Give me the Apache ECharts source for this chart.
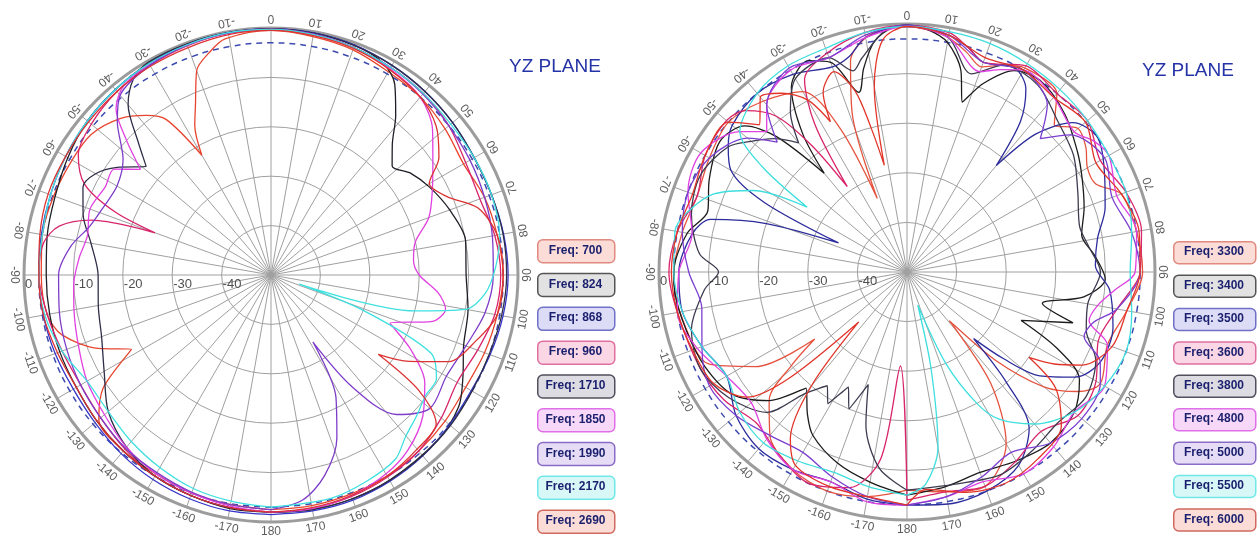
<!DOCTYPE html>
<html><head><meta charset="utf-8">
<script src="https://cdn.jsdelivr.net/npm/echarts@6/dist/echarts.min.js"></script>
<style>html,body{margin:0;padding:0;background:#fff}#c{width:1260px;height:541px}</style>
</head><body><div id="c"></div>
<script>
// ---------- tick labels ----------
const angleLabels = [-170,-160,-150,-140,-130,-120,-110,-100,-90,-80,-70,-60,-50,-40,-30,-20,-10,0,10,20,30,40,50,60,70,80,90,100,110,120,130,140,150,160,170,180];
const radialLabels = [0,-10,-20,-30,-40];
const refLevel = -3;   // dashed reference circle (dB)
const refAngles = [-180].concat(angleLabels);

// ---------- left chart: [angle deg, gain dB] ----------
const leftNames = ['700','824','868','960','1710','1850','1990','2170','2690'];
const L700 = [[-180,-2.5],[-170,-2.8],[-160,-3],[-150,-3.5],[-140,-3.5],[-130,-4.5],[-124,-9],[-118,-18],[-113,-12],[-106,-6],[-100,-4],[-90,-3.5],[-80,-3],[-70,-3.2],[-60,-3.5],[-52,-3.8],[-44,-6],[-38,-9],[-34,-12],[-30,-22],[-27,-16],[-24,-12.4],[-20,-6],[-15,-3],[-11,-1.3],[0,-0.5],[10,-1],[20,-1.5],[30,-2.5],[40,-3],[50,-4],[60,-5],[70,-4],[80,-3.5],[90,-3],[100,-3.5],[110,-4],[120,-4.5],[130,-4],[140,-3.5],[150,-3],[160,-2.8],[170,-2.6],[180,-2.5]];
const L824 = [[-180,-2],[-170,-2],[-160,-2.5],[-150,-3],[-140,-3.5],[-130,-4],[-120,-4.5],[-110,-4.5],[-100,-4.5],[-90,-4.5],[-80,-4],[-70,-3.5],[-60,-2.5],[-50,-1.5],[-40,-1],[-30,-0.5],[-20,-0.3],[-10,-0.2],[0,-0.2],[10,-0.3],[20,-0.5],[28,-1.5],[33,-4],[38,-9],[43,-14],[48,-17],[54,-15],[61,-13.3],[70,-11.5],[80,-10],[90,-10.5],[100,-9.5],[110,-8.5],[118,-6],[125,-3.6],[135,-2.5],[150,-2],[160,-1.8],[170,-1.8],[180,-2]];
const L868 = [[-180,-1.5],[-170,-1.5],[-160,-1.8],[-150,-2.2],[-140,-2.8],[-130,-3.5],[-120,-3.8],[-110,-3.5],[-100,-3.2],[-90,-3],[-80,-2.8],[-70,-2.5],[-60,-2],[-50,-1.5],[-40,-1],[-30,-0.6],[-20,-0.3],[-10,-0.1],[0,0],[10,-0.2],[20,-0.5],[30,-1],[40,-1.5],[50,-2],[60,-2.5],[70,-2.5],[80,-2.2],[90,-2],[100,-2.3],[110,-2.8],[120,-3.2],[130,-2.8],[140,-2.2],[150,-1.8],[160,-1.5],[170,-1.5],[180,-1.5]];
const L960 = [[-180,-2],[-170,-2.2],[-160,-2.5],[-150,-3],[-140,-4],[-130,-5],[-120,-5.5],[-110,-5],[-100,-4],[-90,-3],[-82,-3.5],[-77,-6],[-73,-12],[-70,-25],[-68,-16],[-64,-8],[-58,-4],[-50,-2.5],[-40,-1.5],[-30,-1],[-20,-0.6],[-10,-0.3],[0,-0.2],[10,-0.5],[20,-1],[30,-1.5],[40,-2],[50,-3],[60,-4.5],[70,-5],[80,-4],[90,-3.5],[100,-4],[110,-5.5],[120,-6.5],[130,-5],[140,-3.5],[150,-2.8],[160,-2.3],[170,-2],[180,-2]];
const L1710 = [[-180,-2],[-170,-2.2],[-160,-2.5],[-150,-3],[-140,-4.5],[-130,-7],[-120,-11],[-110,-13.5],[-100,-14.5],[-90,-15],[-80,-13],[-72,-10],[-65,-8],[-60,-9],[-55,-12],[-49,-16.5],[-45,-12],[-40,-5],[-35,-1.5],[-30,-0.3],[-20,-0.2],[-10,-0.2],[0,-0.2],[10,-0.3],[20,-0.6],[30,-1],[40,-1.5],[50,-2],[60,-2.5],[70,-2.5],[80,-2.3],[90,-2.3],[100,-2.6],[110,-3],[120,-3],[130,-2.6],[140,-2.3],[150,-2],[160,-1.8],[170,-1.8],[180,-2]];
const L1850 = [[-180,-2],[-170,-2.5],[-160,-3],[-150,-3.5],[-140,-4.5],[-130,-6],[-120,-7],[-110,-8.5],[-100,-9.5],[-93,-10],[-85,-11],[-78,-12],[-70,-11],[-62,-12],[-56,-11.7],[-51,-16],[-47,-10],[-43,-4],[-38,-1.5],[-30,-0.8],[-20,-0.5],[-10,-0.3],[0,-0.3],[10,-0.5],[20,-1],[30,-1.8],[40,-3],[48,-6],[55,-10],[62,-13],[70,-16],[77,-20],[84,-21],[90,-20],[96,-16],[101,-14],[106,-16],[112,-24],[118,-18],[125,-12],[133,-8],[142,-5],[150,-3.5],[160,-2.5],[170,-2],[180,-2]];
const L1990 = [[-180,-2.5],[-170,-2.8],[-160,-3.2],[-150,-3.8],[-140,-4.2],[-130,-5],[-120,-5.5],[-110,-6],[-100,-6.5],[-90,-7],[-82,-9],[-75,-12],[-68,-13.4],[-60,-14],[-52,-12],[-45,-6],[-40,-2.5],[-30,-1],[-20,-0.5],[-10,-0.3],[0,-0.3],[10,-0.5],[20,-1],[30,-1.5],[40,-2.2],[50,-3],[60,-3.5],[70,-4],[80,-4.5],[90,-5],[100,-6],[110,-8],[120,-9],[130,-8],[138,-12],[144,-22],[148,-34],[152,-22],[158,-14.4],[165,-8],[172,-4],[180,-2.5]];
const L2170 = [[-180,-3],[-170,-3.5],[-160,-4],[-150,-5],[-140,-6],[-130,-7],[-120,-7],[-110,-5],[-100,-3.5],[-90,-3],[-80,-3],[-70,-2.5],[-60,-2],[-50,-1.5],[-40,-1],[-30,-0.6],[-20,-0.4],[-10,-0.2],[0,-0.3],[10,-0.6],[20,-1],[30,-1.5],[40,-2],[50,-2.5],[60,-2.5],[70,-2.5],[80,-3],[88,-4.5],[95,-6.5],[100,-10],[104,-20],[108,-44],[111,-30],[116,-14],[122,-10.5],[128,-10.3],[134,-9],[140,-7.5],[146,-5],[155,-4],[165,-3.2],[180,-3]];
const L2690 = [[-180,-2],[-170,-2.2],[-160,-2.5],[-150,-3],[-140,-3.5],[-130,-4],[-120,-4.5],[-110,-4],[-100,-3.2],[-90,-3],[-80,-2.5],[-70,-2],[-60,-2],[-50,-1.8],[-40,-1.5],[-30,-1.2],[-20,-1],[-10,-0.6],[0,-0.5],[10,-0.8],[20,-1.2],[30,-2],[40,-3],[48,-5],[55,-8.5],[60,-13],[66,-11],[72,-6],[80,-3.5],[90,-3],[100,-3.5],[108,-6.5],[116,-10],[122,-17],[126.5,-23],[128,-12],[132,-5],[140,-4],[150,-3],[160,-2.5],[170,-2.2],[180,-2]];

// ---------- right chart ----------
const rightNames = ['3300','3400','3500','3600','3800','4800','5000','5500','6000'];
const R3300 = [[-180,-6],[-170,-4],[-160,-3],[-150,-4],[-140,-7],[-133,-12],[-129,-20],[-126,-27],[-122,-14],[-115,-6],[-100,-3.5],[-90,-3],[-80,-4],[-70,-5],[-60,-4],[-50,-3],[-40,-5],[-30,-8],[-25,-18],[-22,-34],[-19,-16],[-15,-6],[-10,-2],[-5,-0.8],[0,-0.5],[5,-1],[10,-2],[15,-4],[20,-6],[25,-4],[30,-2.5],[40,-3],[45,-8],[50,-5],[55,-6],[60,-8],[65,-8],[70,-4],[80,-3],[90,-2.5],[100,-5],[110,-7],[120,-5],[125,-8],[130,-14],[135,-25],[139,-37],[143,-22],[150,-10],[160,-4],[170,-5],[180,-6]];
const R3400 = [[-180,-5],[-170,-7],[-160,-9],[-150,-12],[-145,-15],[-139,-19],[-133,-12],[-125,-7],[-115,-5],[-105,-4],[-95,-3],[-90,-3],[-80,-5],[-73,-8],[-65,-6],[-55,-4],[-48,-6],[-44,-12],[-40,-24],[-37,-15],[-32,-6],[-25,-3],[-20,-5],[-15,-12.5],[-12,-8],[-8,-3],[-3,-0.5],[0,-0.3],[5,-1],[10,-3],[15,-8],[18,-14],[22,-9],[28,-4],[35,-3],[45,-5],[55,-8],[62,-10],[70,-12],[78,-14],[85,-12],[92,-10],[98,-14],[103,-22],[107,-15],[113,-25],[117,-16],[122,-9],[130,-6],[140,-5],[150,-6],[160,-7],[170,-6],[180,-5]];
const R3500 = [[-180,-3],[-170,-3.5],[-160,-5],[-150,-4],[-140,-3.5],[-130,-5],[-120,-8],[-110,-6],[-100,-4],[-90,-4],[-80,-6],[-75,-9],[-71,-20],[-67,-35],[-64,-18],[-60,-9],[-55,-6],[-50,-4],[-40,-3],[-30,-4],[-20,-6],[-15,-5],[-10,-2],[0,-0.2],[10,-1.5],[15,-3],[20,-5],[28,-3.5],[33,-6],[37,-12],[40,-22],[43,-12],[48,-5],[55,-3],[65,-6],[72,-8],[80,-11],[88,-12],[95,-9],[105,-7],[115,-7],[122,-10],[128,-16],[132,-24],[135,-31],[138,-20],[142,-10],[150,-5],[160,-3],[170,-2.5],[180,-3]];
const R3600 = [[-180,-4],[-176,-31],[-172,-12],[-165,-5],[-155,-3],[-145,-5],[-135,-7],[-125,-5],[-115,-4],[-100,-3],[-90,-2],[-80,-3],[-70,-5],[-60,-3],[-50,-2.5],[-45,-4],[-40,-9],[-37,-18],[-35,-29],[-32,-15],[-28,-6],[-20,-3],[-10,-1],[0,-0.3],[10,-1],[15,-3],[20,-5],[30,-2],[40,-3],[50,-2.5],[60,-5],[70,-3],[80,-2],[90,-3],[100,-7],[110,-9],[120,-6],[130,-5],[140,-8],[150,-6],[160,-4],[170,-5],[180,-4]];
const R3800 = [[-180,-6],[-172,-10],[-165,-18],[-161,-26],[-157,-20],[-153,-24],[-149,-19],[-145,-22],[-140,-18],[-135,-10],[-125,-6],[-115,-4],[-105,-5],[-95,-9],[-90,-12],[-85,-8],[-75,-5],[-65,-4],[-55,-6],[-50,-9],[-45,-12],[-40,-16],[-36,-10],[-30,-5],[-20,-4],[-15,-8],[-12,-6],[-5,-1],[0,-0.5],[10,-2],[18,-8],[25,-4],[35,-4],[45,-7],[55,-9],[65,-12],[75,-14],[82,-13],[90,-11],[100,-13],[108,-12],[115,-8],[125,-6],[135,-7],[145,-6],[155,-5],[165,-6],[180,-6]];
const R4800 = [[-180,-3],[-170,-3],[-160,-5],[-150,-4],[-140,-6],[-130,-9],[-120,-8],[-110,-5],[-100,-3],[-90,-4],[-80,-6],[-70,-3],[-60,-2],[-50,-6],[-45,-10],[-40,-6],[-30,-3],[-20,-4],[-10,-2],[0,-0.5],[10,-2],[20,-7],[25,-5],[30,-3],[40,-4],[50,-6],[55,-4],[60,-3],[70,-5],[80,-3],[90,-4],[95,-8],[100,-11],[105,-12],[110,-7],[120,-4],[130,-6],[140,-4],[150,-3],[160,-5],[170,-4],[180,-3]];
const R5000 = [[-180,-3],[-170,-4],[-160,-6],[-150,-8],[-140,-7],[-130,-5],[-120,-4],[-110,-6],[-100,-8],[-90,-6],[-80,-4],[-70,-3],[-60,-4],[-50,-8],[-45,-13],[-40,-6],[-30,-2.5],[-20,-4],[-10,-1.5],[0,-0.3],[10,-1.5],[20,-5],[30,-3],[40,-6],[45,-12],[50,-7],[60,-4],[70,-6],[80,-4],[90,-3],[100,-7],[105,-11],[110,-12],[115,-7],[120,-5],[130,-4],[140,-5],[150,-8],[160,-6],[170,-4],[180,-3]];
const R5500 = [[-180,-5],[-170,-6],[-160,-7],[-150,-6],[-140,-5],[-130,-6],[-120,-8],[-110,-6],[-100,-4],[-90,-3],[-80,-2.5],[-75,-4],[-68,-8],[-62,-15],[-57,-26],[-54,-14],[-50,-6],[-40,-3],[-30,-2],[-20,-2],[-10,-1],[0,-0.5],[10,-0.8],[20,-1],[30,-1.5],[40,-2],[50,-2.5],[60,-3],[70,-3],[80,-4],[90,-5],[100,-4],[110,-3],[120,-4],[130,-6],[140,-10],[148,-15],[152,-20],[157,-30],[162,-43],[166,-30],[170,-14],[175,-7],[180,-5]];
const R6000 = [[-180,-3],[-170,-4],[-160,-4],[-150,-5],[-145,-9],[-140,-20],[-136,-36],[-132,-18],[-128,-9],[-120,-5],[-110,-4],[-100,-3],[-90,-2.5],[-80,-3],[-70,-4],[-60,-3],[-50,-3],[-45,-8],[-40,-4],[-35,-6],[-30,-10],[-27,-16],[-25,-10],[-20,-7],[-16,-12],[-14,-20],[-12,-28],[-10,-12],[-6,-3],[0,-0.5],[10,-1.5],[20,-4],[30,-3],[40,-4],[50,-3],[60,-6],[70,-4],[80,-2.5],[90,-3],[100,-5],[110,-6],[118,-10],[122,-15],[125,-20],[128,-12],[135,-6],[145,-4],[155,-3],[165,-4],[175,-6],[180,-3]];

// ---------- styles ----------
const leftData = [L700,L824,L868,L960,L1710,L1850,L1990,L2170,L2690];
const rightData = [R3300,R3400,R3500,R3600,R3800,R4800,R5000,R5500,R6000];
const leftColors = ['#e8452e','#1e1e26','#3636c8','#d8246a','#2e2e48','#e040e0','#7d3cc8','#3ee0e0','#dc3232'];
const rightColors = ['#e5533f','#1c1c1c','#2c2c9c','#d8246a','#3c3c50','#e040e0','#7b3fd0','#3fdede','#e2352a'];
const leftFill = ['#fbdcd6','#e2e2e2','#dcdcf6','#fbd6e4','#dcdce2','#f8d8f8','#e6dcf6','#d8f8f8','#fbdcd6'];
const leftStroke = ['#e08a80','#555555','#7070c8','#e070a0','#50505e','#e070e8','#8a6cc8','#70e8e8','#d06a60'];
const rightFill = leftFill;
const rightStroke = leftStroke;

const polars = [{center:[271,275], radius:247}, {center:[907,272], radius:248}];

function axisSet(i){
  return {
    angle: {polarIndex:i, type:'value', min:-180, max:180, interval:10, startAngle:270, clockwise:true,
      axisLine:{show:true, lineStyle:{color:'#9c9c9c', width:3}}, axisTick:{show:false}, axisLabel:{show:false},
      splitLine:{show:true, lineStyle:{color:'#a0a0a0', width:1}}},
    radius: {polarIndex:i, type:'value', min:-50, max:0, interval:10,
      axisLine:{show:false}, axisTick:{show:false}, axisLabel:{show:false},
      splitLine:{show:true, lineStyle:{color:'#a0a0a0', width:1}}}
  };
}
const ax0 = axisSet(0), ax1 = axisSet(1);

const series = [];
function addCurves(names, data, colors, pi){
  names.forEach((n, k) => {
    series.push({type:'line', name:'Freq: '+n, coordinateSystem:'polar', polarIndex:pi,
      data: data[k].map(p => [p[1], p[0]]), showSymbol:false, smooth:0.3,
      lineStyle:{color:colors[k], width:1.3}, itemStyle:{color:colors[k]}, z:4, silent:true});
  });
}
function addFrame(pi){
  series.push({type:'line', coordinateSystem:'polar', polarIndex:pi, silent:true, showSymbol:false, smooth:0.4,
    data: refAngles.map(a => [refLevel, a]), lineStyle:{color:'#3c4ab0', width:1.5, type:[6,5]}, z:3});
  series.push({type:'scatter', coordinateSystem:'polar', polarIndex:pi, symbolSize:0, clip:false, silent:true, z:5,
    data: angleLabels.map(a => ({value:[1.9, a], label:{rotate:180 - a}})),
    label:{show:true, position:'inside', formatter:p => String(p.value[1]), fontSize:12, color:'#333', fontFamily:'Liberation Sans'}});
  series.push({type:'scatter', coordinateSystem:'polar', polarIndex:pi, symbolSize:0, clip:false, silent:true, z:5,
    data: radialLabels.map(v => [v, -90]),
    label:{show:true, position:'right', distance:1, offset:[0,9], formatter:p => String(p.value[0]), fontSize:13, color:'#222', fontFamily:'Liberation Sans'}});
}
addFrame(0); addFrame(1);
addCurves(leftNames, leftData, leftColors, 0);
addCurves(rightNames, rightData, rightColors, 1);

// legend boxes
const graphics = [];
function addLegend(names, fills, strokes, x, y0, w, h, pitch){
  names.forEach((n, k) => {
    const y = y0 + k * pitch;
    graphics.push({type:'rect', left:x, top:y, shape:{width:w, height:h, r:5}, style:{fill:fills[k], stroke:strokes[k], lineWidth:1.5}});
    graphics.push({type:'text', x:x + w/2, y:y + h/2, style:{text:'Freq: '+n, fill:'#1a1f6e', font:'bold 12px "Liberation Sans"', textAlign:'center', textVerticalAlign:'middle'}});
  });
}
addLegend(leftNames, leftFill, leftStroke, 537, 239, 77, 23, 33.8);
addLegend(rightNames, rightFill, rightStroke, 1173, 241, 82, 22, 33.4);

const chart = echarts.init(document.getElementById('c'));
chart.setOption({
  animation:false,
  backgroundColor:'#ffffff',
  title:[
    {text:'YZ PLANE', left:504, top:52, textStyle:{color:'#2433a6', fontSize:19, fontWeight:'normal', fontFamily:'Liberation Sans'}},
    {text:'YZ PLANE', left:1137, top:56, textStyle:{color:'#2433a6', fontSize:19, fontWeight:'normal', fontFamily:'Liberation Sans'}}
  ],
  polar: polars,
  angleAxis: [ax0.angle, ax1.angle],
  radiusAxis: [ax0.radius, ax1.radius],
  graphic: {elements: graphics},
  series: series
});
</script>
</body></html>
